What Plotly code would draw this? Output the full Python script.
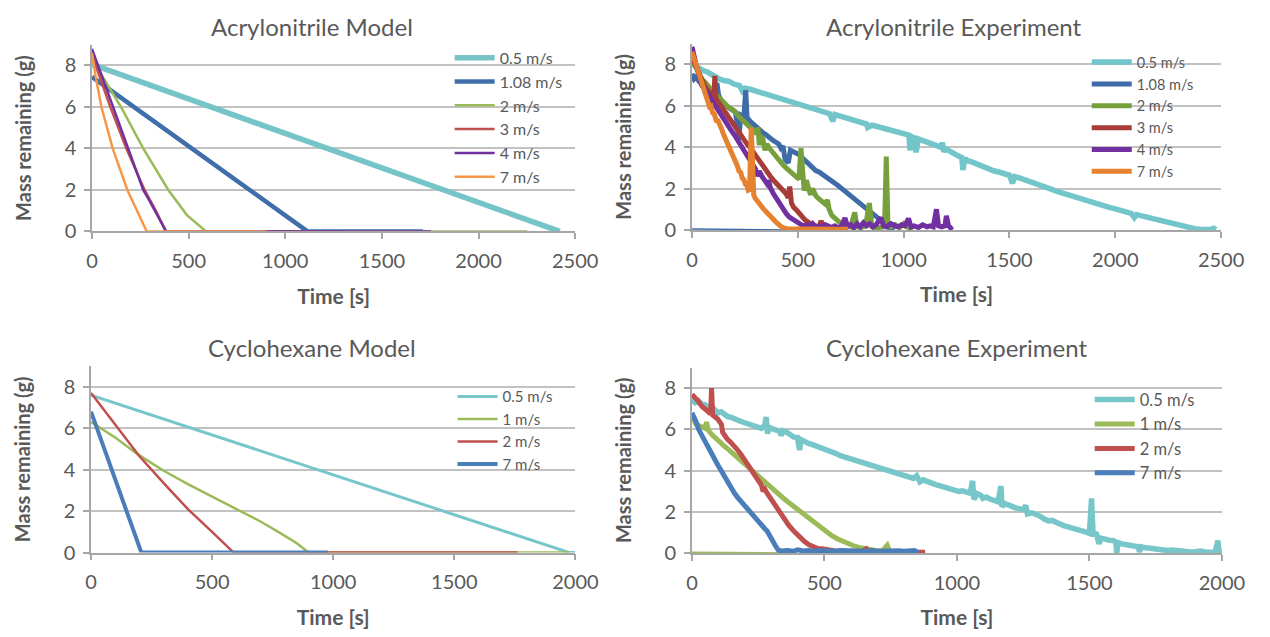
import plotly.graph_objects as go

# ---------------- Acrylonitrile – model ----------------
acn_mod_05_t = [0, 2420]
acn_mod_05_m = [8.05, 0]
acn_mod_108_t = [0, 1115, 1712]
acn_mod_108_m = [7.45, 0, 0]
acn_mod_2_t = [0, 150, 265, 395, 490, 590, 2251]
acn_mod_2_m = [8.3, 6.0, 4.0, 2.0, 0.8, 0, 0]
acn_mod_3_t = [0, 95, 178, 272, 330, 382, 1300]
acn_mod_3_m = [8.5, 6.0, 4.0, 2.0, 1.0, 0, 0]
acn_mod_4_t = [0, 110, 190, 265, 290, 384, 1754]
acn_mod_4_m = [8.8, 6.0, 4.0, 2.0, 1.6, 0, 0]
acn_mod_7_t = [0, 20, 49, 107, 183, 283, 903]
acn_mod_7_m = [8.6, 7.4, 6.0, 4.0, 2.0, 0, 0]

# ---------------- Acrylonitrile – experiment ----------------
acn_exp_05_t = [0, 25, 50, 75, 100, 125, 150, 175, 200, 225, 238, 250, 275, 300, 325, 350, 375, 400,
                425, 450, 475, 500, 525, 550, 575, 600, 625, 650, 665, 675, 700, 725, 750, 775, 800,
                825, 830, 850, 875, 900, 925, 950, 975, 1000, 1025, 1030, 1040, 1050, 1059, 1070,
                1100, 1125, 1150, 1175, 1183, 1190, 1200, 1225, 1250, 1275, 1280, 1290, 1300, 1325,
                1350, 1375, 1400, 1425, 1450, 1475, 1500, 1514, 1525, 1550, 1575, 1600, 1625, 1650,
                1675, 1700, 1725, 1750, 1775, 1800, 1825, 1850, 1875, 1900, 1925, 1950, 1975, 2000,
                2025, 2050, 2075, 2090, 2100, 2125, 2150, 2175, 2200, 2225, 2250, 2275, 2300, 2325,
                2350, 2375, 2400, 2425, 2450, 2465, 2475]
acn_exp_05_m = [8.02, 7.85, 7.72, 7.62, 7.45, 7.32, 7.22, 7.18, 7.05, 6.98, 6.72, 6.85, 6.80, 6.72,
                6.62, 6.55, 6.46, 6.38, 6.30, 6.20, 6.14, 6.06, 5.98, 5.90, 5.80, 5.74, 5.68, 5.62,
                5.25, 5.58, 5.50, 5.42, 5.33, 5.25, 5.20, 5.12, 4.95, 5.06, 5.00, 4.94, 4.88, 4.80,
                4.74, 4.66, 4.58, 3.85, 4.50, 4.45, 3.75, 4.40, 4.30, 4.20, 4.10, 4.00, 4.22, 3.78,
                3.92, 3.75, 3.62, 3.50, 2.90, 3.45, 3.36, 3.28, 3.16, 3.05, 2.96, 2.86, 2.80, 2.72,
                2.64, 2.25, 2.58, 2.50, 2.42, 2.34, 2.26, 2.15, 2.04, 1.96, 1.86, 1.78, 1.68, 1.58,
                1.50, 1.42, 1.34, 1.26, 1.20, 1.12, 1.08, 1.02, 0.95, 0.86, 0.80, 0.60, 0.74, 0.68,
                0.62, 0.54, 0.46, 0.38, 0.32, 0.26, 0.20, 0.14, 0.09, 0.06, 0.04, 0.02, 0.02, 0.08,
                0.01]

acn_exp_108_t = [0, 10, 20, 35, 50, 65, 80, 95, 110, 118, 125, 140, 160, 175, 190, 205, 215, 222,
                 230, 245, 254, 260, 275, 290, 305, 320, 335, 350, 365, 380, 395, 410, 420, 430, 440,
                 455, 465, 480, 495, 510, 525, 540, 555, 570, 585, 600, 615, 630, 645, 660, 675, 690,
                 705, 720, 735, 750, 765, 780, 795, 810, 825, 840, 855, 870, 885, 900, 915, 930, 945,
                 955]
acn_exp_108_m = [7.55, 7.30, 7.40, 7.15, 7.05, 6.95, 6.85, 6.70, 6.60, 7.10, 6.55, 6.20, 6.00, 5.90,
                 5.80, 5.70, 5.05, 4.35, 5.55, 5.45, 6.75, 5.45, 5.25, 5.10, 4.95, 4.80, 4.70, 4.60,
                 4.45, 4.35, 4.25, 4.15, 3.95, 4.05, 3.40, 3.25, 3.85, 3.78, 3.70, 3.62, 3.45, 3.30,
                 3.15, 3.00, 2.87, 2.80, 2.70, 2.58, 2.48, 2.40, 2.28, 2.15, 2.02, 1.90, 1.78, 1.66,
                 1.55, 1.42, 1.30, 1.18, 1.05, 0.92, 0.78, 0.65, 0.52, 0.40, 0.22, 0.12, 0.10, 0.0]
acn_exp_108_base_t = [0, 450]
acn_exp_108_base_m = [0.05, 0.0]

acn_exp_2_t = [0, 15, 30, 46, 60, 75, 90, 105, 123, 140, 155, 170, 185, 200, 215, 230, 245, 260,
               277, 290, 305, 312, 318, 325, 335, 345, 354, 370, 385, 400, 415, 430, 445, 460, 475,
               490, 505, 515, 522, 530, 540, 550, 560, 570, 585, 600, 615, 630, 640, 648, 661, 675,
               692, 705, 720, 735, 750, 769, 780, 800, 820, 838, 850, 870, 890, 910, 918, 926, 940,
               960, 980, 1000, 1015, 1030, 1045]
acn_exp_2_m = [8.25, 7.90, 7.60, 7.30, 7.15, 6.95, 6.75, 6.62, 6.45, 6.25, 6.05, 5.95, 5.85, 5.75,
               5.55, 5.40, 5.30, 5.10, 5.00, 4.80, 4.65, 4.95, 4.10, 4.55, 4.40, 3.85, 4.15, 3.90,
               3.70, 3.55, 3.35, 3.15, 3.00, 2.85, 2.75, 2.60, 2.45, 3.95, 2.50, 1.90, 2.40, 2.05,
               1.70, 2.00, 1.65, 1.50, 1.35, 1.25, 1.45, 1.00, 0.70, 0.55, 0.40, 0.30, 0.25, 0.18,
               0.15, 0.85, 0.15, 0.12, 0.20, 1.30, 0.15, 0.10, 0.12, 0.15, 3.55, 0.20, 0.15, 0.25,
               0.10, 0.30, 0.15, 0.10, 0.05]

acn_exp_3_t = [0, 12, 24, 36, 46, 58, 70, 82, 95, 104, 108, 113, 123, 135, 150, 165, 180, 200, 215,
               230, 245, 260, 277, 290, 305, 320, 335, 354, 370, 385, 400, 415, 430, 445, 455, 462,
               470, 480, 495, 508, 520, 535, 554, 570, 585, 600, 610, 620, 640, 660]
acn_exp_3_m = [8.35, 8.05, 7.80, 7.45, 7.15, 7.00, 6.80, 6.65, 6.45, 6.40, 7.45, 6.35, 6.20, 6.00,
               5.78, 5.55, 5.35, 5.05, 4.80, 4.55, 4.35, 4.15, 3.95, 3.75, 3.52, 3.30, 3.10, 2.87,
               2.60, 2.40, 2.22, 2.10, 1.95, 1.75, 1.55, 2.10, 1.30, 1.10, 0.95, 0.80, 0.62, 0.48,
               0.35, 0.25, 0.18, 0.12, 0.45, 0.10, 0.08, 0.05]

acn_exp_4_t = [0, 8, 18, 30, 46, 60, 75, 90, 105, 123, 140, 160, 180, 200, 220, 240, 255, 265, 277,
               290, 300, 310, 318, 330, 345, 354, 362, 370, 385, 400, 415, 430, 445, 460, 477, 490,
               508, 525, 540, 555, 570, 585, 600, 615, 630, 645, 660, 675, 690, 705, 723, 735, 750,
               765, 780, 795, 810, 825, 840, 855, 870, 892, 905, 920, 940, 960, 975, 990, 1005, 1023,
               1035, 1050, 1070, 1090, 1110, 1125, 1140, 1155, 1165, 1180, 1195, 1202, 1212, 1222,
               1228]
acn_exp_4_m = [8.85, 8.40, 8.05, 7.60, 7.00, 6.80, 6.55, 6.30, 6.05, 5.85, 5.50, 5.20, 4.90, 4.60,
               4.25, 3.95, 3.75, 3.55, 3.35, 3.10, 2.95, 2.60, 2.85, 2.60, 2.35, 2.24, 2.40, 2.05,
               1.75, 1.50, 1.25, 1.00, 0.80, 0.62, 0.50, 0.38, 0.27, 0.20, 0.25, 0.15, 0.30, 0.12,
               0.20, 0.10, 0.25, 0.15, 0.12, 0.20, 0.10, 0.15, 0.58, 0.15, 0.25, 0.10, 0.30, 0.15,
               0.35, 0.20, 0.30, 0.15, 0.25, 0.60, 0.20, 0.15, 0.30, 0.20, 0.15, 0.25, 0.20, 0.55,
               0.15, 0.20, 0.12, 0.25, 0.15, 0.20, 0.15, 1.00, 0.20, 0.15, 0.20, 0.68, 0.20, 0.10,
               0.0]

acn_exp_7_t = [0, 8, 18, 30, 46, 60, 68, 75, 83, 90, 98, 105, 114, 123, 132, 140, 150, 160, 170,
               180, 190, 200, 208, 215, 222, 230, 238, 246, 253, 260, 266, 272, 280, 286, 292, 298,
               308, 320, 335, 354, 370, 385, 400, 415, 430, 450, 480, 520, 560, 600, 640, 680, 738]
acn_exp_7_m = [8.60, 8.35, 8.00, 7.65, 7.05, 6.65, 6.35, 6.30, 5.95, 5.98, 5.65, 5.62, 5.30, 5.28,
               4.98, 4.88, 4.60, 4.38, 4.15, 3.92, 3.62, 3.45, 3.20, 3.08, 2.85, 2.78, 2.50, 2.42,
               2.20, 2.15, 1.92, 1.95, 4.95, 1.80, 1.68, 1.55, 1.45, 1.25, 1.05, 0.82, 0.62, 0.48,
               0.35, 0.22, 0.11, 0.06, 0.05, 0.04, 0.05, 0.04, 0.05, 0.04, 0.03]

# ---------------- Cyclohexane – model ----------------
cyc_mod_05_t = [0, 1975, 2000]
cyc_mod_05_m = [7.6, 0, 0]
cyc_mod_1_t = [0, 100, 192, 300, 400, 500, 600, 700, 780, 850, 898, 1975]
cyc_mod_1_m = [6.3, 5.55, 4.75, 3.95, 3.3, 2.7, 2.1, 1.5, 0.95, 0.45, 0, 0]
cyc_mod_2_t = [0, 100, 200, 300, 400, 500, 589, 1761]
cyc_mod_2_m = [7.7, 6.2, 4.65, 3.35, 2.1, 1.0, 0, 0]
cyc_mod_7_t = [0, 208, 978]
cyc_mod_7_m = [6.8, 0, 0]

# ---------------- Cyclohexane – experiment ----------------
cyc_exp_05_t = [0, 12, 25, 37, 49, 62, 74, 86, 98, 110, 123, 135, 148, 160, 172, 185, 197, 210, 221,
                235, 250, 262, 275, 280, 285, 292, 305, 318, 332, 336, 344, 358, 372, 385, 398, 406,
                412, 425, 440, 455, 467, 480, 495, 510, 528, 545, 560, 575, 590, 605, 620, 635, 651,
                665, 680, 695, 713, 730, 745, 760, 774, 790, 805, 820, 836, 848, 860, 872, 890, 905,
                920, 940, 959, 975, 990, 1008, 1020, 1037, 1050, 1059, 1064, 1075, 1090, 1098, 1110,
                1125, 1140, 1155, 1166, 1170, 1180, 1195, 1210, 1221, 1235, 1250, 1260, 1266, 1283,
                1300, 1315, 1330, 1345, 1360, 1375, 1390, 1406, 1420, 1435, 1450, 1468, 1485, 1500,
                1508, 1514, 1525, 1536, 1545, 1560, 1575, 1591, 1600, 1603, 1608, 1620, 1635, 1652,
                1670, 1685, 1689, 1695, 1714, 1735, 1755, 1775, 1795, 1815, 1837, 1860, 1880, 1898,
                1920, 1940, 1960, 1975, 1985, 1990, 2000]
cyc_exp_05_m = [7.45, 7.30, 7.38, 7.22, 7.20, 7.05, 7.10, 6.92, 6.80, 6.85, 6.72, 6.62, 6.58, 6.49,
                6.45, 6.38, 6.33, 6.28, 6.25, 6.18, 6.12, 6.05, 6.20, 6.60, 5.80, 6.10, 6.02, 5.98,
                5.90, 5.70, 5.93, 5.85, 5.70, 5.62, 5.60, 5.00, 5.50, 5.40, 5.32, 5.26, 5.21, 5.15,
                5.06, 4.98, 4.90, 4.82, 4.72, 4.66, 4.58, 4.52, 4.46, 4.40, 4.34, 4.27, 4.20, 4.15,
                4.10, 4.00, 3.95, 3.90, 3.86, 3.80, 3.72, 3.66, 3.62, 3.75, 3.45, 3.55, 3.45, 3.40,
                3.32, 3.25, 3.15, 3.10, 3.05, 2.99, 3.02, 2.95, 2.90, 3.50, 2.60, 2.88, 2.80, 2.65,
                2.72, 2.62, 2.55, 2.48, 3.25, 2.25, 2.40, 2.35, 2.25, 2.19, 2.12, 2.10, 2.30, 1.90,
                1.95, 1.88, 1.78, 1.65, 1.56, 1.58, 1.45, 1.40, 1.32, 1.28, 1.20, 1.15, 1.08, 1.02,
                0.95, 2.65, 0.85, 1.00, 0.45, 0.72, 0.65, 0.62, 0.60, 0.52, 0.0, 0.50, 0.45, 0.40,
                0.37, 0.33, 0.30, 0.05, 0.30, 0.25, 0.20, 0.18, 0.16, 0.12, 0.14, 0.10, 0.08, 0.05,
                0.06, 0.10, 0.04, 0.08, 0.05, 0.60, 0.05, 0.0]

cyc_exp_1_t = [0, 5, 15, 30, 49, 55, 62, 75, 86, 98, 110, 123, 135, 148, 160, 172, 185, 197, 210,
               221, 235, 250, 262, 283, 300, 320, 344, 365, 385, 406, 425, 445, 467, 485, 505, 528,
               550, 570, 590, 610, 630, 651, 670, 688, 705, 720, 737, 745, 762]
cyc_exp_1_m = [6.35, 6.50, 6.25, 6.15, 6.05, 6.35, 5.95, 5.75, 5.60, 5.45, 5.30, 5.18, 5.05, 4.90,
               4.74, 4.60, 4.45, 4.30, 4.15, 4.02, 3.85, 3.70, 3.55, 3.31, 3.12, 2.90, 2.67, 2.45,
               2.25, 2.03, 1.82, 1.62, 1.40, 1.20, 1.02, 0.84, 0.68, 0.55, 0.45, 0.35, 0.27, 0.21,
               0.15, 0.13, 0.10, 0.12, 0.37, 0.10, 0.05]
cyc_exp_1_base_t = [0, 332]
cyc_exp_1_base_m = [0.03, 0.0]

cyc_exp_2_t = [0, 12, 25, 37, 49, 62, 70, 74, 78, 86, 98, 105, 111, 116, 123, 135, 148, 160, 172,
               185, 197, 210, 221, 235, 250, 262, 268, 275, 283, 300, 320, 344, 365, 385, 406, 425,
               442, 460, 475, 492, 510, 525, 541, 570, 600, 640, 658, 670, 720, 780, 830, 880]
cyc_exp_2_m = [7.70, 7.55, 7.35, 7.12, 6.95, 6.85, 6.75, 8.00, 6.70, 6.62, 6.49, 6.35, 6.25, 5.85,
               5.70, 5.50, 5.35, 5.21, 5.00, 4.78, 4.55, 4.30, 4.10, 3.85, 3.55, 3.30, 3.00, 3.10,
               2.91, 2.58, 2.15, 1.72, 1.35, 1.05, 0.76, 0.55, 0.40, 0.30, 0.22, 0.21, 0.15, 0.12,
               0.10, 0.08, 0.07, 0.06, 0.21, 0.06, 0.05, 0.04, 0.05, 0.03]

cyc_exp_7_t = [0, 8, 16, 25, 37, 49, 62, 74, 86, 98, 110, 123, 135, 148, 160, 172, 185, 197, 210,
               221, 235, 250, 262, 275, 283, 292, 300, 307, 315, 326, 340, 360, 380, 400, 420, 440,
               460, 480, 500, 520, 540, 560, 580, 600, 620, 640, 660, 680, 700, 720, 740, 760, 780,
               800, 820, 840, 854]
cyc_exp_7_m = [6.80, 6.60, 6.35, 6.00, 5.70, 5.37, 5.10, 4.80, 4.55, 4.26, 4.00, 3.70, 3.45, 3.15,
               2.91, 2.70, 2.50, 2.30, 2.12, 1.96, 1.75, 1.55, 1.35, 1.18, 1.08, 0.85, 0.65, 0.52,
               0.35, 0.13, 0.10, 0.12, 0.08, 0.15, 0.10, 0.12, 0.08, 0.12, 0.10, 0.14, 0.08, 0.12,
               0.10, 0.08, 0.12, 0.10, 0.09, 0.12, 0.08, 0.10, 0.12, 0.09, 0.11, 0.08, 0.10, 0.12,
               0.02]

# ---------------- styling ----------------
FONT = "Lato"
TXT = "#595959"
AXIS = "#A6A6A6"
GRID = "#C2C2C2"

W, H = 1270, 637


def px_x(p):
    return p / W


def px_y(p):
    return 1 - p / H


fig = go.Figure()


def add(t, m, name, color, width, xa, ya, legend, show=True):
    fig.add_trace(go.Scatter(
        x=t, y=m, mode="lines", name=name,
        line=dict(color=color, width=width),
        xaxis=xa, yaxis=ya, legend=legend, showlegend=show,
        hoverinfo="skip",
    ))


# top-left: acrylonitrile model
add(acn_mod_05_t, acn_mod_05_m, "0.5 m/s", "#76C4C7", 5.5, "x", "y", "legend")
add(acn_mod_108_t, acn_mod_108_m, "1.08 m/s", "#3F6EAA", 4.5, "x", "y", "legend")
add(acn_mod_2_t, acn_mod_2_m, "2 m/s", "#9BBB59", 2.5, "x", "y", "legend")
add(acn_mod_3_t, acn_mod_3_m, "3 m/s", "#C0504D", 2.5, "x", "y", "legend")
add(acn_mod_4_t, acn_mod_4_m, "4 m/s", "#7030A0", 2.5, "x", "y", "legend")
add(acn_mod_7_t, acn_mod_7_m, "7 m/s", "#F79646", 2.5, "x", "y", "legend")

# top-right: acrylonitrile experiment
add(acn_exp_05_t, acn_exp_05_m, "0.5 m/s", "#72C5C8", 5.5, "x2", "y2", "legend2")
add(acn_exp_108_base_t, acn_exp_108_base_m, "1.08 m/s", "#3D6CA8", 1.5, "x2", "y2", "legend2", False)
add(acn_exp_108_t, acn_exp_108_m, "1.08 m/s", "#3D6CA8", 5, "x2", "y2", "legend2")
add(acn_exp_2_t, acn_exp_2_m, "2 m/s", "#77A03C", 5, "x2", "y2", "legend2")
add(acn_exp_3_t, acn_exp_3_m, "3 m/s", "#A83C38", 5, "x2", "y2", "legend2")
add(acn_exp_4_t, acn_exp_4_m, "4 m/s", "#7030A0", 5, "x2", "y2", "legend2")
add(acn_exp_7_t, acn_exp_7_m, "7 m/s", "#E5812F", 5, "x2", "y2", "legend2")

# bottom-left: cyclohexane model
add(cyc_mod_05_t, cyc_mod_05_m, "0.5 m/s", "#77C6C9", 3, "x3", "y3", "legend3")
add(cyc_mod_1_t, cyc_mod_1_m, "1 m/s", "#9BBB59", 2.5, "x3", "y3", "legend3")
add(cyc_mod_2_t, cyc_mod_2_m, "2 m/s", "#C0504D", 2.5, "x3", "y3", "legend3")
add(cyc_mod_7_t, cyc_mod_7_m, "7 m/s", "#4A7EBB", 4, "x3", "y3", "legend3")

# bottom-right: cyclohexane experiment
add(cyc_exp_05_t, cyc_exp_05_m, "0.5 m/s", "#77C6C9", 5.5, "x4", "y4", "legend4")
add(cyc_exp_1_base_t, cyc_exp_1_base_m, "1 m/s", "#9BBB59", 1.5, "x4", "y4", "legend4", False)
add(cyc_exp_1_t, cyc_exp_1_m, "1 m/s", "#9BBB59", 5, "x4", "y4", "legend4")
add(cyc_exp_2_t, cyc_exp_2_m, "2 m/s", "#C0504D", 5, "x4", "y4", "legend4")
add(cyc_exp_7_t, cyc_exp_7_m, "7 m/s", "#4A7EBB", 5, "x4", "y4", "legend4")


def xaxis(x0, x1, xmax, anchor):
    return dict(
        domain=[px_x(x0), px_x(x1)], range=[0, xmax], anchor=anchor,
        tick0=0, dtick=500, showgrid=False, zeroline=False,
        showline=True, linecolor=AXIS, linewidth=1.5,
        ticks="outside", ticklen=6, tickwidth=1.5, tickcolor=AXIS,
        ticklabelstandoff=5,
        tickfont=dict(family=FONT, size=20, color=TXT),
        title=dict(text="<b>Time [s]</b>", standoff=18,
                   font=dict(family=FONT, size=21, color=TXT)),
        fixedrange=True,
    )


def yaxis(y0, y1, anchor):
    return dict(
        domain=[px_y(y1), px_y(y0)], range=[0, 9], anchor=anchor,
        tick0=0, dtick=2, showgrid=True, gridcolor=GRID, gridwidth=1.5,
        zeroline=False, showline=True, linecolor=AXIS, linewidth=1.5,
        ticks="outside", ticklen=6, tickwidth=1.5, tickcolor=AXIS,
        ticklabelstandoff=4,
        tickfont=dict(family=FONT, size=20, color=TXT),
        title=dict(text="<b>Mass remaining (g)</b>", standoff=28,
                   font=dict(family=FONT, size=20, color=TXT)),
        fixedrange=True,
    )


def legend(x, y, size):
    return dict(
        x=px_x(x), y=px_y(y), xanchor="left", yanchor="top",
        bgcolor="rgba(0,0,0,0)", borderwidth=0, itemwidth=40,
        font=dict(family=FONT, size=size, color=TXT),
        tracegroupgap=0, itemclick=False, itemdoubleclick=False,
    )


titles = [
    ("Acrylonitrile Model", 313, 27),
    ("Acrylonitrile Experiment", 970, 27),
    ("Cyclohexane Model", 313, 354),
    ("Cyclohexane Experiment", 973, 354),
]

fig.update_layout(
    width=W, height=H,
    margin=dict(l=0, r=0, t=0, b=0),
    paper_bgcolor="white", plot_bgcolor="white",
    font=dict(family=FONT, color=TXT),
    xaxis=xaxis(88, 582.5, 2500, "y"),
    yaxis=yaxis(45.5, 235.5, "x"),
    xaxis2=xaxis(702, 1243.5, 2500, "y2"),
    yaxis2=yaxis(44.5, 234, "x2"),
    xaxis3=xaxis(87, 582.7, 2000, "y3"),
    yaxis3=yaxis(372.5, 562.3, "x3"),
    xaxis4=xaxis(702, 1244.3, 2000, "y4"),
    yaxis4=yaxis(374, 562.7, "x4"),
    legend=legend(454, 41.5, 16),
    legend2=legend(1106, 47, 14.5),
    legend3=legend(457, 387, 15),
    legend4=legend(1109, 389, 16.5),
    annotations=[
        dict(text=t, x=px_x(x), y=px_y(y), xref="paper", yref="paper",
             xanchor="center", yanchor="middle", showarrow=False,
             font=dict(family=FONT, size=24, color=TXT))
        for t, x, y in titles
    ],
    showlegend=True,
)

# the figure is sized to fill the page exactly, so drop the default body margin
fig.write_html("out.html", post_script="document.body.style.margin = '0';")
